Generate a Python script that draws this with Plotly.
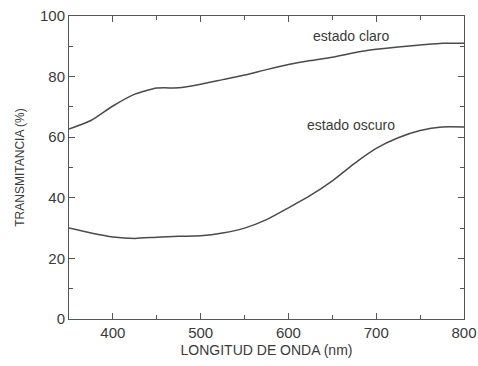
import plotly.graph_objects as go

wl_claro = [350, 375, 400, 425, 450, 475, 500, 525, 550, 575, 600, 625, 650, 675, 700, 725, 750, 775, 800]
t_claro = [62.7, 65.5, 70.3, 74.2, 76.2, 76.3, 77.5, 79.0, 80.5, 82.3, 84.0, 85.3, 86.4, 87.9, 89.0, 89.8, 90.4, 91.0, 91.0]

wl_oscuro = [350, 375, 400, 425, 450, 475, 500, 525, 550, 575, 600, 625, 650, 675, 700, 725, 750, 775, 800]
t_oscuro = [30.0, 28.4, 27.1, 26.6, 27.0, 27.3, 27.5, 28.4, 30.0, 32.8, 36.7, 40.8, 45.6, 51.3, 56.3, 59.8, 62.2, 63.4, 63.4]

labels = ["estado claro", "estado oscuro"]
label_x = [671, 671]
label_y = [93.4, 64.0]

FONT = "Liberation Sans, Arial, sans-serif"
INK = "#3a3a3a"

fig = go.Figure()
for xs, ys in [(wl_claro, t_claro), (wl_oscuro, t_oscuro)]:
    fig.add_trace(go.Scatter(x=xs, y=ys, mode="lines", line=dict(color="#4a4a4a", width=1.5, shape="spline", smoothing=0.6), showlegend=False, hoverinfo="skip"))

for t, x, y in zip(labels, label_x, label_y):
    fig.add_annotation(x=x, y=y, text=t, showarrow=False, font=dict(family=FONT, size=14, color=INK), xanchor="center", yanchor="middle")

axis_common = dict(showline=True, linecolor="#555", linewidth=1, mirror="ticks", ticks="inside", ticklen=6, tickwidth=1.2, tickcolor="#555", showgrid=False, zeroline=False, automargin=False, tickfont=dict(family=FONT, size=15, color=INK))

fig.update_xaxes(range=[350, 800], tickmode="linear", tick0=400, dtick=100,
                 minor=dict(ticks="inside", ticklen=4, tickwidth=1, tickcolor="#555", dtick=50, tick0=350, showgrid=False),
                 title=dict(text="LONGITUD DE ONDA (nm)", font=dict(family=FONT, size=14, color=INK), standoff=5),
                 **axis_common)
fig.update_yaxes(range=[0, 100], tickmode="linear", tick0=0, dtick=20,
                 minor=dict(ticks="inside", ticklen=4, tickwidth=1, tickcolor="#555", dtick=10, tick0=0, showgrid=False),
                 title=dict(text="TRANSMITANCIA (%)", font=dict(family=FONT, size=12, color=INK), standoff=12),
                 **axis_common)

fig.update_layout(width=478, height=366, margin=dict(l=69, r=14, t=16, b=47),
                  paper_bgcolor="white", plot_bgcolor="white")

fig.write_html("out.html")
